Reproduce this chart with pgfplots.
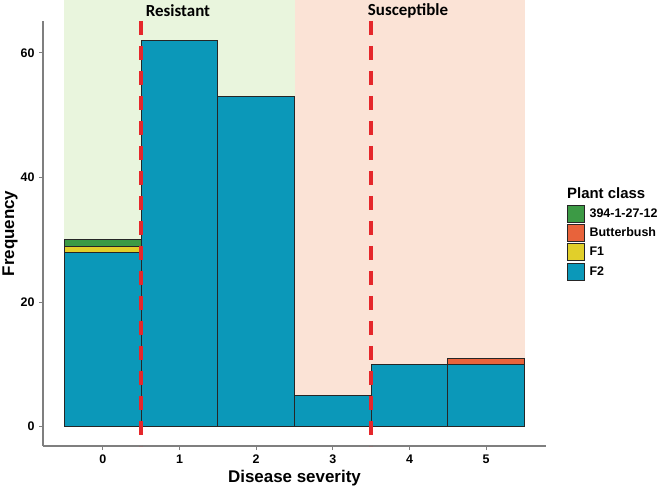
\documentclass[border=0pt]{standalone}
\usepackage{fontspec}
\setmainfont{Liberation Sans}
\newfontfamily\carlito{Carlito}
\usepackage{pgfplots}
\pgfplotsset{compat=1.18}
\definecolor{cG}{HTML}{3C9A45}
\definecolor{cB}{HTML}{E8633B}
\definecolor{cF1}{HTML}{E1CF2A}
\definecolor{cF2}{HTML}{0B98B9}
\definecolor{bgG}{HTML}{E9F5DD}
\definecolor{bgP}{HTML}{FBE3D6}
\definecolor{cRed}{HTML}{E5272B}
\definecolor{axgray}{HTML}{7F7F7F}
\pgfplotsset{
  mylegend/.style={legend image code/.code={\draw[##1,draw=black!85,line width=0.8bp] (0bp,-8.5bp) rectangle (17bp,8.5bp);}},
  frame/.style={at={(0,0)}, anchor=south west,
    scale only axis, width=503bp, height=425bp,
    xmin=-0.78, xmax=5.78, ymin=-3.1, ymax=65.1, clip=false},
}
\begin{document}
\begin{tikzpicture}
\useasboundingbox (-43bp,-40bp) rectangle (620bp,446bp);
% background shading
\begin{axis}[frame, axis lines=none, xtick=\empty, ytick=\empty]
\fill[bgG] (axis cs:-0.5,0) rectangle (axis cs:2.5,68.5);
\fill[bgP] (axis cs:2.5,0) rectangle (axis cs:5.5,68.5);
\end{axis}
% bars
\begin{axis}[frame,
  ybar stacked, bar width=1,
  axis x line*=bottom, axis y line*=left,
  axis line style={draw=axgray, line width=1.3bp},
  xtick={0,1,2,3,4,5}, ytick={0,20,40,60},
  tick style={draw=axgray, line width=1bp},
  tick align=outside, major tick length=4bp,
  /pgf/number format/assume math mode=true,
  ticklabel style={font=\fontsize{12.5}{15}\selectfont\bfseries},
  yticklabel style={xshift=-1bp},
  xticklabel style={yshift=-1bp},
  xlabel={Disease severity}, ylabel={Frequency},
  label style={font=\fontsize{17}{20}\selectfont\bfseries},
  xlabel style={at={(axis description cs:0.5,0)}, anchor=center, yshift=-32bp},
  ylabel style={at={(axis description cs:0,0.5)}, anchor=center, yshift=33bp},
  legend style={at={(axis description cs:1.042,0.568)}, anchor=north west, draw=none, fill=none,
    font=\fontsize{12.5}{14}\selectfont\bfseries, row sep=1.5bp, inner sep=0pt,
    nodes={inner sep=0.5bp},
    /tikz/every odd column/.append style={column sep=4bp}},
  legend cell align=left,
  reverse legend,
]
\addplot[fill=cF2, draw=black!85, line width=0.8bp, mylegend] coordinates {(0,28) (1,62) (2,53) (3,5) (4,10) (5,10)};
\addlegendentry{F2}
\addplot[fill=cF1, draw=black!85, line width=0.8bp, mylegend] coordinates {(0,1) (1,0) (2,0) (3,0) (4,0) (5,0)};
\addlegendentry{F1}
\addplot[fill=cB, draw=black!85, line width=0.8bp, mylegend] coordinates {(0,0) (1,0) (2,0) (3,0) (4,0) (5,1)};
\addlegendentry{Butterbush}
\addplot[fill=cG, draw=black!85, line width=0.8bp, mylegend] coordinates {(0,1) (1,0) (2,0) (3,0) (4,0) (5,0)};
\addlegendentry{394-1-27-12}
\node[anchor=west, inner sep=0pt, font=\fontsize{15}{18}\selectfont\bfseries] at (axis description cs:1.0417,0.595) {Plant class};
\end{axis}
% reference lines and annotations
\begin{axis}[frame, axis lines=none, xtick=\empty, ytick=\empty]
\draw[cRed, line width=3.5bp, dash pattern=on 14bp off 11bp] (axis cs:0.5,65.1) -- (axis cs:0.5,-3.1);
\draw[cRed, line width=3.5bp, dash pattern=on 14bp off 11bp] (axis cs:3.5,65.1) -- (axis cs:3.5,-3.1);
\node[font=\carlito\bfseries\fontsize{17}{20}\selectfont] at (axis cs:0.98,66.7) {Resistant};
\node[font=\carlito\bfseries\fontsize{17}{20}\selectfont] at (axis cs:3.98,66.7) {Susceptible};
\end{axis}
\end{tikzpicture}
\end{document}
